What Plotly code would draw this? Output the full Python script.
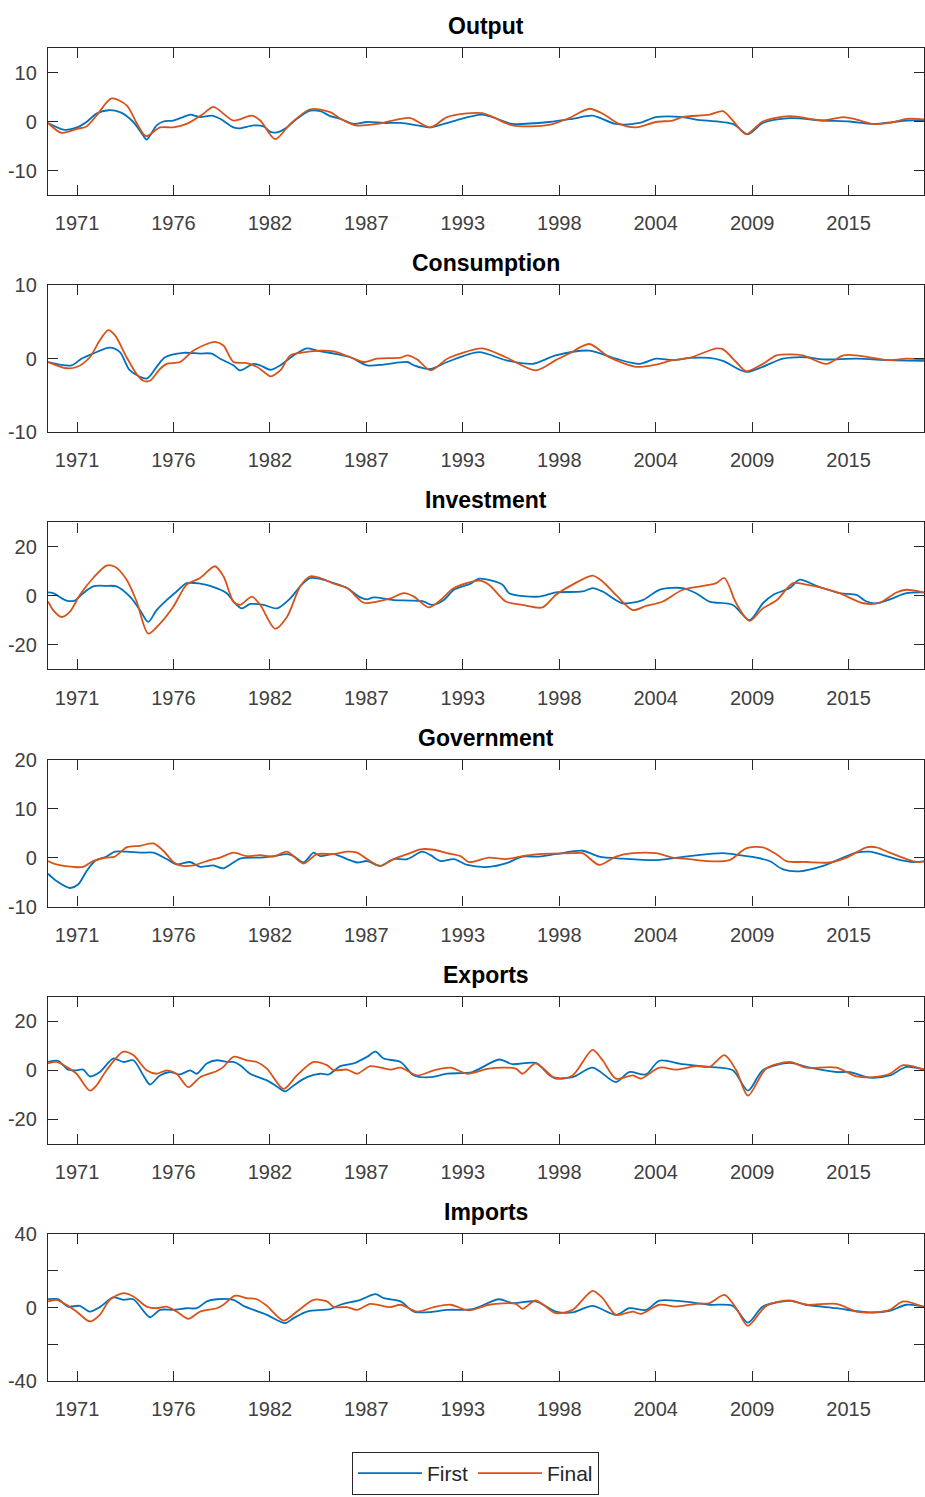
import plotly.graph_objects as go

# ---------------- data ----------------
panel_titles = ["Output", "Consumption", "Investment", "Government", "Exports", "Imports"]
tick_years = [1971, 1976.5, 1982, 1987.5, 1993, 1998.5, 2004, 2009.5, 2015]
tick_labels = ["1971", "1976", "1982", "1987", "1993", "1998", "2004", "2009", "2015"]

output_first_x = [1969.35, 1970.30, 1971.01, 1971.54, 1972.11, 1972.78, 1973.45, 1974.21, 1974.78, 1974.97,
                  1975.54, 1975.92, 1976.49, 1977.06, 1977.45, 1978.02, 1978.68, 1979.16, 1979.92, 1980.30,
                  1981.06, 1981.64, 1982.02, 1982.40, 1982.97, 1983.54, 1984.30, 1984.87, 1985.44, 1986.02,
                  1986.78, 1987.54, 1988.49, 1989.45, 1990.40, 1991.16, 1991.92, 1992.59, 1994.11, 1995.45,
                  1995.83, 1997.92, 1999.26, 2000.40, 2001.73, 2003.07, 2004.02, 2005.54, 2006.30, 2008.40,
                  2009.26, 2010.11, 2011.64, 2013.54, 2015.07, 2016.40, 2018.30, 2019.45]
output_first = [-0.3, -1.7, -1.2, -0.1, 1.6, 2.3, 1.9, -0.1, -2.9, -3.7,
                -0.8, 0.0, 0.2, 0.9, 1.4, 0.9, 1.2, 0.55, -1.2, -1.4,
                -0.8, -1.0, -2.1, -2.2, -1.2, 0.55, 2.2, 2.1, 1.1, 0.55,
                -0.5, -0.1, -0.3, -0.3, -0.8, -1.2, -0.5, 0.2, 1.4, -0.1,
                -0.5, -0.1, 0.55, 1.2, -0.5, -0.3, 0.9, 0.9, 0.4, -0.5,
                -2.6, -0.3, 0.7, 0.2, 0.0, -0.5, 0.2, 0.2]
output_final_x = [1969.35, 1970.11, 1971.01, 1971.54, 1972.11, 1972.97, 1973.83, 1974.40, 1974.93, 1975.73,
                  1976.49, 1977.25, 1978.21, 1978.78, 1979.92, 1980.97, 1981.45, 1982.30, 1983.16, 1984.30,
                  1985.44, 1986.02, 1986.87, 1988.11, 1989.45, 1990.02, 1991.16, 1992.11, 1994.11, 1995.83,
                  1997.92, 1999.07, 2000.21, 2000.97, 2001.92, 2002.88, 2004.02, 2004.97, 2005.54, 2007.07,
                  2007.83, 2008.40, 2009.16, 2010.11, 2011.64, 2013.54, 2014.69, 2015.45, 2016.40, 2017.35,
                  2018.30, 2019.45]
output_final = [-0.3, -2.3, -1.5, -1.0, 1.2, 4.7, 3.3, -0.3, -3.0, -1.2,
                -1.2, -0.5, 1.6, 3.0, 0.2, 1.2, 0.2, -3.6, -0.5, 2.5,
                1.9, 0.55, -0.8, -0.5, 0.55, 0.7, -1.2, 0.9, 1.7, -0.8,
                -0.7, 0.7, 2.6, 1.6, -0.5, -1.2, -0.1, 0.2, 0.9, 1.4,
                2.1, 0.2, -2.6, 0.0, 1.1, 0.2, 0.9, 0.4, -0.5, -0.3,
                0.55, 0.4]

consumption_first_x = [1969.35, 1970.68, 1971.25, 1971.92, 1972.87, 1973.45, 1974.02, 1974.97, 1975.54, 1976.02,
                       1977.06, 1978.02, 1978.68, 1979.16, 1979.92, 1980.30, 1981.06, 1981.45, 1982.02, 1982.59,
                       1983.35, 1984.11, 1984.68, 1985.64, 1986.59, 1987.54, 1988.49, 1989.83, 1990.21, 1991.16,
                       1992.11, 1993.92, 1995.45, 1996.97, 1998.30, 2000.21, 2001.73, 2003.07, 2004.02, 2004.97,
                       2005.92, 2007.07, 2007.83, 2009.16, 2010.11, 2011.26, 2012.59, 2013.54, 2015.45, 2017.35,
                       2019.45]
consumption_first = [-0.45, -0.9, 0.0, 0.7, 1.5, 0.9, -1.6, -2.7, -1.1, 0.2,
                     0.8, 0.7, 0.7, 0.0, -0.9, -1.6, -0.7, -0.9, -1.5, -0.9,
                     0.45, 1.4, 1.1, 0.7, 0.2, -0.9, -0.8, -0.45, -0.9, -1.4,
                     -0.45, 0.9, -0.2, -0.7, 0.45, 1.1, 0.0, -0.7, 0.0, -0.2,
                     0.1, 0.1, -0.3, -1.8, -1.1, 0.0, 0.2, -0.1, 0.0, -0.2,
                     -0.3]
consumption_final_x = [1969.35, 1970.40, 1971.01, 1971.73, 1972.30, 1972.78, 1973.16, 1973.83, 1974.40, 1974.78,
                       1975.16, 1975.73, 1976.11, 1976.87, 1977.64, 1978.40, 1978.87, 1979.35, 1979.92, 1980.68,
                       1981.25, 1981.83, 1982.05, 1982.59, 1983.16, 1983.73, 1984.87, 1985.64, 1986.59, 1987.35,
                       1988.11, 1989.45, 1989.83, 1990.40, 1991.16, 1992.11, 1992.87, 1994.11, 1995.45, 1997.16,
                       1998.30, 1999.07, 2000.21, 2001.35, 2002.88, 2004.02, 2004.97, 2005.92, 2007.45, 2007.83,
                       2008.59, 2009.16, 2010.11, 2010.88, 2011.64, 2012.40, 2013.73, 2014.69, 2015.45, 2017.35,
                       2018.30, 2019.45]
consumption_final = [-0.45, -1.3, -1.1, 0.2, 2.5, 3.9, 3.2, 0.2, -2.1, -3.0,
                     -3.0, -1.4, -0.7, -0.45, 1.1, 2.0, 2.3, 1.8, -0.45, -0.6,
                     -1.1, -2.1, -2.4, -1.6, 0.45, 0.8, 1.1, 1.0, 0.2, -0.45,
                     0.0, 0.15, 0.45, -0.1, -1.6, 0.0, 0.7, 1.4, 0.2, -1.6,
                     -0.2, 0.7, 2.0, 0.2, -1.1, -0.8, -0.2, 0.1, 1.4, 1.3,
                     -0.45, -1.7, -0.7, 0.45, 0.6, 0.45, -0.7, 0.45, 0.45, -0.2,
                     0.0, -0.15]

investment_first_x = [1969.35, 1969.64, 1970.40, 1970.87, 1971.35, 1971.92, 1972.68, 1973.25, 1974.02, 1974.59,
                      1975.06, 1975.54, 1976.11, 1976.68, 1977.25, 1978.02, 1978.59, 1979.54, 1979.92, 1980.40,
                      1980.87, 1981.64, 1982.40, 1983.16, 1983.73, 1984.30, 1984.87, 1985.64, 1986.40, 1987.16,
                      1987.54, 1987.92, 1989.06, 1990.02, 1990.78, 1991.25, 1991.92, 1992.49, 1993.44, 1993.92,
                      1995.26, 1995.64, 1997.35, 1998.30, 1999.83, 2000.40, 2000.97, 2002.11, 2003.26, 2004.21,
                      2005.54, 2006.30, 2007.07, 2008.40, 2009.35, 2010.11, 2010.69, 2011.64, 2012.21, 2013.16,
                      2014.49, 2015.45, 2016.02, 2016.59, 2017.35, 2018.30, 2019.45]
investment_first = [1.4, 1.1, -1.9, -1.9, 1.1, 3.9, 4.1, 3.9, -0.3, -5.8,
                    -10.6, -5.8, -1.7, 1.8, 5.2, 5.0, 4.1, 1.1, -2.3, -5.1,
                    -3.3, -3.7, -5.1, -1.0, 3.9, 7.3, 6.9, 5.2, 3.2, -0.6,
                    -1.4, -0.6, -1.7, -1.9, -2.3, -3.7, -1.7, 2.5, 5.0, 7.0,
                    4.6, 1.1, -0.3, 1.4, 1.8, 3.2, 1.8, -3.0, -1.7, 2.5,
                    3.2, 1.1, -2.3, -3.7, -9.9, -3.0, 0.4, 3.2, 6.6, 4.1,
                    1.1, 0.4, -2.3, -3.0, -1.4, 1.1, 1.4]
investment_final_x = [1969.35, 1969.64, 1970.11, 1970.59, 1971.16, 1971.92, 1972.68, 1973.16, 1973.83, 1974.40,
                      1975.06, 1975.73, 1976.49, 1977.25, 1978.02, 1978.87, 1979.35, 1979.92, 1980.30, 1980.97,
                      1981.45, 1982.30, 1982.97, 1983.73, 1984.30, 1984.87, 1985.64, 1986.40, 1987.35, 1988.11,
                      1988.87, 1989.64, 1990.21, 1991.06, 1991.73, 1992.49, 1993.92, 1994.49, 1995.45, 1996.40,
                      1997.54, 1998.30, 1999.26, 2000.40, 2000.97, 2001.73, 2002.69, 2003.45, 2004.40, 2005.54,
                      2006.69, 2007.45, 2007.92, 2008.59, 2009.35, 2010.11, 2010.88, 2011.83, 2012.59, 2013.54,
                      2014.49, 2015.83, 2016.78, 2017.73, 2018.30, 2019.45]
investment_final = [-2.3, -5.8, -8.6, -6.5, 0.4, 7.3, 12.4, 11.9, 6.6, -2.3,
                    -15.4, -11.3, -4.4, 4.6, 7.3, 12.1, 8.0, -2.3, -3.7, -0.3,
                    -3.7, -13.4, -8.6, 3.9, 8.0, 7.3, 5.0, 3.2, -2.8, -2.3,
                    -1.0, 1.1, -0.3, -4.7, -1.7, 3.2, 6.2, 4.6, -2.3, -3.7,
                    -4.7, 0.4, 4.6, 8.3, 5.9, 0.4, -5.8, -4.1, -2.3, 2.5,
                    4.1, 5.2, 7.3, -3.0, -10.2, -5.1, -1.9, 5.2, 4.6, 3.2,
                    1.1, -3.0, -2.8, 1.4, 2.5, 1.1]

government_first_x = [1969.35, 1969.83, 1970.59, 1971.06, 1971.54, 1972.02, 1972.68, 1973.16, 1973.83, 1974.59,
                      1975.35, 1976.11, 1976.68, 1977.45, 1978.02, 1978.78, 1979.35, 1980.30, 1981.45, 1982.21,
                      1982.97, 1983.35, 1983.92, 1984.49, 1984.87, 1985.64, 1986.40, 1986.97, 1987.54, 1988.30,
                      1989.06, 1989.83, 1990.68, 1991.16, 1991.73, 1992.49, 1993.25, 1994.49, 1995.45, 1996.40,
                      1997.35, 1998.30, 1999.83, 2000.78, 2002.11, 2004.02, 2005.92, 2007.83, 2008.78, 2009.73,
                      2010.49, 2011.26, 2012.21, 2013.54, 2014.49, 2015.45, 2016.21, 2016.97, 2017.73, 2018.69,
                      2019.45]
government_first = [-3.3, -4.8, -6.2, -5.5, -2.8, -0.7, 0.2, 1.2, 1.2, 1.0,
                    1.0, -0.3, -1.4, -0.9, -1.9, -1.6, -2.2, -0.2, 0.0, 0.3,
                    0.7, 0.3, -1.0, 1.0, 0.3, 0.7, -0.3, -1.0, -0.7, -1.7,
                    -0.3, -0.3, 1.2, 0.5, -0.7, -0.3, -1.5, -1.9, -1.2, 0.2,
                    0.2, 0.7, 1.4, 0.2, -0.2, -0.5, 0.3, 0.9, 0.5, 0.0,
                    -0.7, -2.4, -2.8, -1.7, -0.3, 1.0, 1.2, 0.5, -0.3, -0.9,
                    -0.7]
government_final_x = [1969.35, 1969.83, 1970.78, 1971.35, 1971.92, 1972.68, 1973.16, 1973.83, 1974.59, 1975.35,
                      1975.92, 1976.49, 1976.87, 1977.64, 1978.40, 1979.16, 1979.92, 1980.68, 1981.45, 1982.21,
                      1982.97, 1983.92, 1984.68, 1985.64, 1986.40, 1986.97, 1987.54, 1988.30, 1989.06, 1989.83,
                      1990.59, 1991.35, 1992.11, 1992.87, 1993.35, 1994.49, 1995.45, 1996.40, 1997.35, 1999.26,
                      1999.83, 2000.78, 2001.73, 2002.69, 2004.02, 2004.97, 2005.92, 2006.88, 2008.21, 2009.16,
                      2010.11, 2010.88, 2011.45, 2012.59, 2013.92, 2014.88, 2016.02, 2016.59, 2017.35, 2018.30,
                      2018.88, 2019.45]
government_final = [-0.7, -1.4, -1.9, -1.9, -0.7, 0.0, 0.2, 2.1, 2.4, 2.9,
                    1.4, -0.9, -1.6, -1.6, -0.7, 0.0, 1.0, 0.3, 0.5, 0.2,
                    1.2, -1.2, 0.7, 0.7, 1.2, 1.0, -0.3, -1.7, -0.3, 0.7,
                    1.7, 1.6, 0.9, 0.3, -0.9, 0.0, -0.3, 0.3, 0.7, 0.9,
                    0.9, -1.5, 0.2, 0.9, 0.9, 0.0, -0.3, -0.7, -0.5, 1.9,
                    2.1, 0.7, -0.7, -0.9, -1.0, 0.0, 2.1, 2.1, 1.0, -0.3,
                    -0.9, -0.7]

exports_first_x = [1969.35, 1969.92, 1970.49, 1970.97, 1971.35, 1971.73, 1972.30, 1973.06, 1973.64, 1974.21,
                   1974.78, 1975.16, 1975.73, 1976.30, 1976.87, 1977.45, 1977.83, 1978.40, 1978.97, 1979.54,
                   1979.92, 1980.30, 1980.87, 1981.83, 1982.40, 1982.87, 1983.35, 1984.11, 1984.87, 1985.35,
                   1986.02, 1986.78, 1987.54, 1988.02, 1988.49, 1989.45, 1990.21, 1991.16, 1992.11, 1993.54,
                   1995.07, 1995.83, 1997.16, 1998.11, 1999.26, 2000.40, 2001.73, 2002.49, 2003.45, 2004.21,
                   2005.54, 2007.07, 2008.40, 2009.26, 2010.11, 2011.64, 2012.59, 2014.30, 2015.07, 2016.21,
                   2017.35, 2018.30, 2019.45]
exports_first = [3.4, 3.9, 0.3, 0.0, 0.3, -2.5, -0.7, 4.8, 3.4, 4.1,
                 -2.1, -5.8, -2.1, -0.7, -1.7, 0.0, -1.4, 2.8, 4.1, 3.4,
                 3.4, 2.1, -1.4, -4.1, -6.6, -8.6, -6.2, -2.8, -1.4, -1.7,
                 1.7, 2.8, 5.5, 7.6, 4.8, 3.4, -2.1, -2.8, -1.4, -0.7,
                 4.4, 2.5, 3.0, -2.8, -2.8, 1.1, -4.8, -0.7, -1.7, 3.9,
                 2.5, 1.4, 0.0, -8.3, 0.0, 3.0, 1.4, -0.7, -0.7, -3.0,
                 -2.1, 1.4, 0.0]
exports_final_x = [1969.35, 1969.83, 1970.40, 1970.97, 1971.73, 1972.11, 1972.68, 1973.64, 1974.21, 1974.97,
                   1975.54, 1976.11, 1976.68, 1977.35, 1978.02, 1978.97, 1979.35, 1979.92, 1980.68, 1981.25,
                   1981.83, 1982.78, 1983.54, 1984.49, 1985.25, 1985.64, 1986.40, 1986.97, 1987.73, 1988.87,
                   1989.45, 1990.40, 1991.35, 1992.30, 1993.25, 1994.49, 1996.02, 1996.40, 1997.16, 1998.30,
                   1999.26, 2000.40, 2000.97, 2001.73, 2002.69, 2003.16, 2004.21, 2005.16, 2006.30, 2007.07,
                   2007.92, 2008.59, 2009.26, 2010.30, 2011.64, 2012.59, 2014.30, 2015.45, 2016.40, 2017.35,
                   2018.11, 2019.45]
exports_final = [2.8, 3.4, 1.4, -1.4, -8.3, -6.2, 0.0, 7.6, 6.2, 0.0,
                 -1.4, 0.0, -1.4, -6.9, -2.8, -0.3, 1.4, 5.5, 4.1, 3.4,
                 0.7, -7.6, -2.1, 3.4, 2.1, 0.0, 0.3, -1.4, 1.7, 0.3,
                 1.1, -2.1, 0.0, 1.1, -1.4, 0.7, 0.7, -1.4, 2.8, -3.4,
                 -2.1, 8.3, 4.1, -3.4, -2.1, -3.4, 1.1, 0.3, 1.7, 1.4,
                 6.2, 0.0, -10.3, 0.7, 3.4, 1.1, 1.1, -2.5, -2.8, -1.4,
                 2.1, 0.0]

imports_first_x = [1969.35, 1969.92, 1970.49, 1971.16, 1971.73, 1972.30, 1973.06, 1973.64, 1974.21, 1975.16,
                   1975.73, 1976.49, 1977.25, 1977.83, 1978.40, 1978.97, 1979.92, 1980.49, 1981.83, 1982.87,
                   1983.35, 1984.11, 1985.44, 1986.02, 1987.16, 1988.02, 1988.49, 1989.45, 1990.21, 1991.16,
                   1992.11, 1993.54, 1995.07, 1995.83, 1997.16, 1998.30, 1999.26, 2000.40, 2001.73, 2002.49,
                   2003.45, 2004.21, 2005.54, 2007.07, 2008.40, 2009.26, 2010.11, 2011.64, 2012.59, 2014.30,
                   2016.21, 2017.35, 2018.30, 2019.45]
imports_first = [4.5, 4.5, 0.5, 0.9, -2.2, 0.2, 5.5, 4.2, 4.5, -5.3,
                 -1.3, -1.3, -0.4, -0.4, 3.3, 4.5, 4.2, 0.9, -4.0, -8.5,
                 -5.8, -2.2, -0.9, 1.5, 4.2, 7.3, 5.1, 3.3, -2.2, -2.5,
                 -1.3, -0.9, 4.5, 2.4, 3.3, -2.2, -2.7, 0.9, -4.0, -0.4,
                 -1.3, 3.8, 3.3, 1.5, 0.9, -8.2, 0.5, 3.6, 1.5, -0.4,
                 -2.7, -1.8, 1.5, 0.2]
imports_final_x = [1969.35, 1969.83, 1970.40, 1970.97, 1971.73, 1972.30, 1972.87, 1973.64, 1974.21, 1974.97,
                   1975.54, 1976.11, 1976.68, 1977.35, 1978.02, 1978.97, 1979.35, 1980.02, 1980.68, 1981.25,
                   1981.83, 1982.78, 1983.54, 1984.49, 1985.25, 1985.64, 1986.40, 1986.97, 1987.73, 1988.87,
                   1989.45, 1990.40, 1991.35, 1992.30, 1993.35, 1994.49, 1996.02, 1996.40, 1997.16, 1998.30,
                   1999.26, 2000.40, 2000.97, 2001.73, 2002.69, 2003.16, 2004.21, 2005.16, 2006.30, 2007.07,
                   2007.92, 2008.59, 2009.26, 2010.30, 2011.64, 2012.59, 2014.30, 2015.45, 2016.40, 2017.35,
                   2018.11, 2019.45]
imports_final = [3.3, 4.2, 1.5, -2.2, -7.6, -4.0, 4.2, 7.8, 6.0, 0.5,
                 -0.4, 0.5, -2.2, -6.2, -2.2, -0.4, 1.5, 6.4, 5.1, 4.5,
                 0.9, -7.1, -2.2, 4.2, 3.3, 0.2, 0.2, -1.3, 2.0, 0.2,
                 1.5, -2.2, 0.2, 1.5, -1.6, 1.5, 2.0, -0.7, 3.8, -3.1,
                 -1.3, 9.1, 5.1, -4.0, -2.2, -3.5, 1.5, 0.5, 2.0, 2.4,
                 6.9, -0.4, -10.0, 0.9, 3.8, 1.5, 2.0, -2.2, -2.7, -1.3,
                 3.3, -0.4]

y_ranges = [[-15, 15], [-10, 10], [-30, 30], [-10, 20], [-30, 30], [-40, 40]]
y_tickvals = [[-10, 0, 10], [-10, 0, 10], [-20, 0, 20], [-10, 0, 10, 20], [-20, 0, 20], [-40, -20, 0, 20, 40]]
y_ticktext = [["-10", "0", "10"], ["-10", "0", "10"], ["-20", "0", "20"], ["-10", "0", "10", "20"],
              ["-20", "0", "20"], ["-40", "", "0", "", "40"]]

series = [
    (output_first_x, output_first, output_final_x, output_final),
    (consumption_first_x, consumption_first, consumption_final_x, consumption_final),
    (investment_first_x, investment_first, investment_final_x, investment_final),
    (government_first_x, government_first, government_final_x, government_final),
    (exports_first_x, exports_first, exports_final_x, exports_final),
    (imports_first_x, imports_first, imports_final_x, imports_final),
]

# ---------------- styling ----------------
W, H = 925, 1497
BLUE = "#0072BD"
ORANGE = "#D95319"
AX = "#262626"
TICKFONT = "Liberation Sans, Arial, Helvetica, sans-serif"
BOLD = "Liberation Sans, Arial, sans-serif"
x_range = [1969.345, 2019.30]

fig = go.Figure()
layout = dict(
    width=W, height=H,
    margin=dict(l=48, r=1, t=0, b=0, autoexpand=False),
    paper_bgcolor="white", plot_bgcolor="white",
    showlegend=True,
    legend=dict(orientation="h", x=0.488, xanchor="center", y=1 - 1452 / H, yanchor="top",
                bordercolor=AX, borderwidth=1, bgcolor="white",
                font=dict(family=TICKFONT, size=21, color=AX), itemwidth=64,
                tracegroupgap=0, traceorder="normal"),
)
annotations = []
for i in range(6):
    top_px = 48 + 237.2 * i
    bot_px = top_px + 147
    dom = [1 - bot_px / H, 1 - top_px / H]
    xa = "xaxis" if i == 0 else f"xaxis{i+1}"
    ya = "yaxis" if i == 0 else f"yaxis{i+1}"
    xr = "x" if i == 0 else f"x{i+1}"
    yr = "y" if i == 0 else f"y{i+1}"
    layout[xa] = dict(domain=[0, 1], anchor=yr, range=x_range, tickmode="array",
                      tickvals=tick_years, ticktext=tick_labels, ticks="inside", ticklen=10,
                      tickwidth=1, tickcolor=AX, showline=True, linecolor=AX, linewidth=1.3,
                      mirror="ticks", showgrid=False, zeroline=False, ticklabelstandoff=10,
                      automargin=False,
                      tickfont=dict(family=TICKFONT, size=20, color="#404040"))
    layout[ya] = dict(domain=dom, anchor=xr, range=y_ranges[i], tickmode="array",
                      tickvals=y_tickvals[i], ticktext=y_ticktext[i], ticks="inside", ticklen=10,
                      tickwidth=1, tickcolor=AX, showline=True, linecolor=AX, linewidth=1.3,
                      mirror="ticks", showgrid=False, zeroline=False, ticklabelstandoff=6,
                      automargin=False,
                      tickfont=dict(family=TICKFONT, size=20, color="#404040"))
    annotations.append(dict(text="<b>" + panel_titles[i] + "</b>", xref=f"{xr} domain", yref=f"{yr} domain",
                            x=0.5, y=1, xanchor="center", yanchor="bottom", yshift=7, showarrow=False,
                            font=dict(family=BOLD, size=23, color="black")))
    fx, fy, lx, ly = series[i]
    fig.add_trace(go.Scatter(x=fx, y=fy, mode="lines", name="First", xaxis=xr, yaxis=yr,
                             line=dict(color=BLUE, width=1.8, shape="spline", smoothing=0.8),
                             showlegend=(i == 0), legendgroup="First"))
    fig.add_trace(go.Scatter(x=lx, y=ly, mode="lines", name="Final", xaxis=xr, yaxis=yr,
                             line=dict(color=ORANGE, width=1.8, shape="spline", smoothing=0.8),
                             showlegend=(i == 0), legendgroup="Final"))
layout["annotations"] = annotations
fig.update_layout(**layout)
fig.write_html("out.html", config={"displayModeBar": False},
               post_script="document.body.style.margin='0';document.body.style.overflow='hidden';")
